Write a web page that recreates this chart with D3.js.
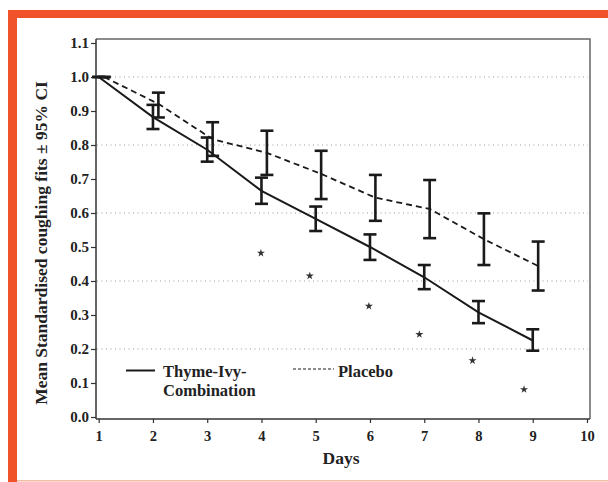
<!DOCTYPE html>
<html>
<head>
<meta charset="utf-8">
<script src="https://cdn.jsdelivr.net/npm/d3@7"></script>
<style>
  html, body { margin: 0; padding: 0; background: #fff; }
  svg { display: block; }
  text { font-family: "Liberation Serif", "DejaVu Serif", serif; font-weight: bold; fill: #222; }
</style>
</head>
<body>
<div id="chart"></div>
<script>
// data
const days = [1, 2, 3, 4, 5, 6, 7, 8, 9];

const thymeMean = [1.0, 0.882, 0.786, 0.665, 0.583, 0.500, 0.411, 0.308, 0.225];
const thymeLow  = [1.0, 0.847, 0.751, 0.627, 0.547, 0.462, 0.376, 0.276, 0.195];
const thymeHigh = [1.0, 0.918, 0.822, 0.704, 0.619, 0.537, 0.447, 0.341, 0.258];

const placeboMean = [1.0, 0.921, 0.817, 0.777, 0.715, 0.645, 0.612, 0.523, 0.444];
const placeboLow  = [1.0, 0.881, 0.768, 0.712, 0.641, 0.577, 0.526, 0.447, 0.372];
const placeboHigh = [1.0, 0.954, 0.867, 0.842, 0.783, 0.712, 0.697, 0.599, 0.516];

// significance markers
const starDays = [3.99, 4.89, 5.98, 6.91, 7.89, 8.84];
const starValues = [0.482, 0.415, 0.326, 0.243, 0.166, 0.081];

const xTicks = [1, 2, 3, 4, 5, 6, 7, 8, 9, 10];
const yTicks = [0.0, 0.1, 0.2, 0.3, 0.4, 0.5, 0.6, 0.7, 0.8, 0.9, 1.0, 1.1];
const gridValues = [0.2, 0.4, 0.6, 0.8, 1.0];

const width = 608, height = 482;
const orange = '#f0532a';

const svg = d3.select('#chart').append('svg')
    .attr('width', width)
    .attr('height', height);

// orange frame
svg.append('rect').attr('x', 8).attr('y', 10).attr('width', width - 8).attr('height', 8).attr('fill', orange);
svg.append('rect').attr('x', 8).attr('y', 10).attr('width', 9).attr('height', height - 10).attr('fill', orange);
svg.append('rect').attr('x', 17).attr('y', 480).attr('width', width - 17).attr('height', 1.5).attr('fill', '#f6b9a2');

// scales
const x = d3.scaleLinear().domain([1, 10]).range([98.7, 587]);
const y = d3.scaleLinear().domain([0, 1.1]).range([417, 43]);

const plotLeft = 96, plotRight = 590, plotTop = 39, plotBottom = 419;

// grid lines
svg.append('g').selectAll('line')
    .data(gridValues)
    .join('line')
    .attr('x1', plotLeft + 1).attr('x2', plotRight - 2)
    .attr('y1', d => y(d)).attr('y2', d => y(d))
    .attr('stroke', '#999')
    .attr('stroke-width', 1)
    .attr('stroke-dasharray', '1,3.5');

// plot frame (top & right)
svg.append('path')
    .attr('d', `M${plotLeft},${plotTop}H${plotRight}V${plotBottom}`)
    .attr('fill', 'none')
    .attr('stroke', '#666')
    .attr('stroke-width', 1.5);

// axes
const yAxis = svg.append('g')
    .attr('transform', `translate(${plotLeft},0)`)
    .call(d3.axisLeft(y).tickValues(yTicks).tickFormat(d3.format('.1f')).tickSize(5).tickPadding(2));
yAxis.select('.domain').remove();
yAxis.append('line')
    .attr('x1', 0).attr('x2', 0).attr('y1', plotTop).attr('y2', plotBottom)
    .attr('stroke', '#333').attr('stroke-width', 1.5);

const xAxis = svg.append('g')
    .attr('transform', `translate(0,${plotBottom})`)
    .call(d3.axisBottom(x).tickValues(xTicks).tickFormat(d3.format('d')).tickSize(4).tickPadding(8));
xAxis.select('.domain').remove();
xAxis.append('line')
    .attr('x1', plotLeft).attr('x2', plotRight).attr('y1', 0).attr('y2', 0)
    .attr('stroke', '#333').attr('stroke-width', 1.5);

svg.selectAll('.tick line').attr('stroke', '#333').attr('stroke-width', 1.2);
svg.selectAll('.tick text')
    .style('font-family', '"Liberation Serif", serif')
    .style('font-weight', 'bold')
    .attr('fill', '#222');
yAxis.selectAll('.tick text').style('font-size', '15px');
xAxis.selectAll('.tick text').style('font-size', '14.5px');

// axis titles
svg.append('text')
    .attr('transform', `translate(47,243) rotate(-90)`)
    .attr('text-anchor', 'middle')
    .style('font-size', '17.5px')
    .text('Mean Standardised coughing fits ± 95% CI');

svg.append('text')
    .attr('x', 341).attr('y', 464)
    .attr('text-anchor', 'middle')
    .style('font-size', '17.5px')
    .text('Days');

// series
const series = [
    { name: 'thyme', offset: 0, mean: thymeMean, low: thymeLow, high: thymeHigh, width: 2, dash: null },
    { name: 'placebo', offset: 0.1, mean: placeboMean, low: placeboLow, high: placeboHigh, width: 1.8, dash: '6,4' }
];

const capHalf = 6.5;

series.forEach(s => {
    const pts = days.map((d, i) => ({ d: d + s.offset, m: s.mean[i], lo: s.low[i], hi: s.high[i] }));

    svg.append('path')
        .datum(pts)
        .attr('fill', 'none')
        .attr('stroke', '#1a1a1a')
        .attr('stroke-width', s.width)
        .attr('stroke-dasharray', s.dash)
        .attr('d', d3.line().x(p => x(p.d)).y(p => y(p.m)));

    const bars = svg.append('g').selectAll('g')
        .data(pts)
        .join('g')
        .attr('stroke', '#1a1a1a')
        .attr('stroke-width', 2.6);

    bars.append('line')
        .attr('x1', p => x(p.d)).attr('x2', p => x(p.d))
        .attr('y1', p => y(p.lo)).attr('y2', p => y(p.hi));
    bars.append('line')
        .attr('x1', p => x(p.d) - capHalf).attr('x2', p => x(p.d) + capHalf)
        .attr('y1', p => y(p.hi)).attr('y2', p => y(p.hi));
    bars.append('line')
        .attr('x1', p => x(p.d) - capHalf).attr('x2', p => x(p.d) + capHalf)
        .attr('y1', p => y(p.lo)).attr('y2', p => y(p.lo));
});

// stars
svg.append('g').selectAll('path')
    .data(starDays.map((d, i) => [d, starValues[i]]))
    .join('path')
    .attr('transform', p => `translate(${x(p[0])},${y(p[1])})`)
    .attr('d', d3.symbol(d3.symbolStar).size(20))
    .attr('fill', '#333');

// legend
const legend = svg.append('g');
legend.append('line')
    .attr('x1', 126).attr('x2', 155).attr('y1', 370.5).attr('y2', 370.5)
    .attr('stroke', '#1a1a1a').attr('stroke-width', 2);
legend.append('text').attr('x', 163).attr('y', 377).style('font-size', '16.5px').text('Thyme-Ivy-');
legend.append('text').attr('x', 163).attr('y', 395.5).style('font-size', '16.5px').text('Combination');

legend.append('line')
    .attr('x1', 293).attr('x2', 334).attr('y1', 369).attr('y2', 369)
    .attr('stroke', '#1a1a1a').attr('stroke-width', 1)
    .attr('stroke-dasharray', '3,2');
legend.append('text').attr('x', 338).attr('y', 376.5).style('font-size', '16.5px').text('Placebo');
</script>
</body>
</html>
